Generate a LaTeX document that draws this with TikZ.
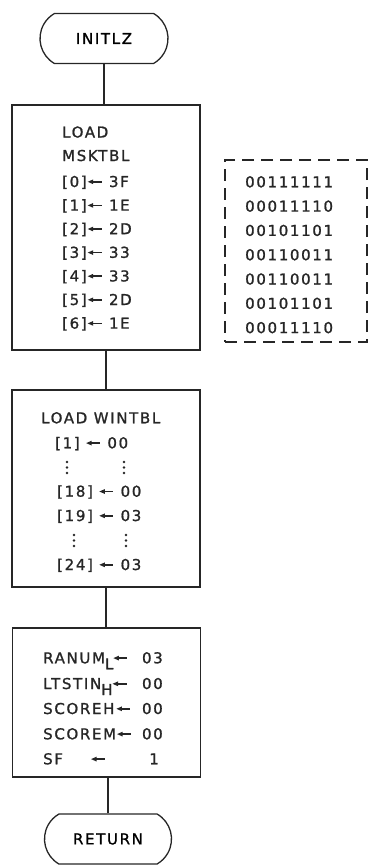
\documentclass[tikz,border=0pt]{standalone}
\usepackage{fontspec}
\setmainfont{DejaVu Sans}[LetterSpace=11, FakeBold=1.2]
\usetikzlibrary{shapes.misc}
\tikzset{
  flowline/.style={draw=black!85, line width=1.3pt},
  termbox/.style={flowline, rounded rectangle, rounded rectangle arc length=120, minimum height=50pt, inner sep=0pt},
  procbox/.style={flowline, rectangle, minimum width=188pt, inner sep=0pt},
  tblbox/.style={flowline, rectangle, dash pattern=on 12pt off 7pt, inner sep=0pt},
  txt/.style={anchor=base west, inner sep=0pt, text=black!85},
  txtr/.style={anchor=base east, inner sep=0pt, text=black!85},
  every node/.style={font=\fontsize{15}{18}\selectfont},
}
\newcommand{\lsub}[1]{\raisebox{-6pt}{#1}}
\newcommand{\getsarrow}{\tikz[x=1pt, y=1pt, baseline=0pt]{\fill[black!85] (0,5.2) -- (5.5,7.6) -- (5.5,2.8) -- cycle; \draw[black!85, line width=1.7pt] (4,5.2) -- (14,5.2);}}
\begin{document}
\begin{tikzpicture}[x=1pt, y=-1pt]
\useasboundingbox (0,0) rectangle (368,865);
% Terminals and process boxes
\node[termbox, minimum width=128pt] (initlz) at (104,38.5) {INITLZ};
\node[procbox, minimum height=245pt] (msk) at (106,227.5) {};
\node[procbox, minimum height=197pt] (win) at (106,488.5) {};
\node[procbox, minimum height=149pt] (ini) at (106.5,702.5) {};
\node[termbox, minimum width=127pt] (ret) at (108,839) {RETURN};
% Bit pattern table
\node[tblbox, minimum width=142pt, minimum height=182pt] (tbl) at (296,251) {};
% Flow lines
\draw[flowline] (initlz.south) -- (initlz.south |- msk.north);
\draw[flowline] (msk) -- (win);
\draw[flowline] (win.south) -- (win.south |- ini.north);
\draw[flowline] (ret.north) -- (ret.north |- ini.south);
% LOAD MSKTBL
\node[txt] (m0) at (62,137.5) {LOAD};
\node[txt] (m1) at (62,161) {MSKTBL};
\node[txt] (m2) at (62,187) {[0]\kern1pt\getsarrow\ 3F};
\node[txt] (m3) at (62,210.6) {[1]\kern1pt\getsarrow\ 1E};
\node[txt] (m4) at (62,234.2) {[2]\kern1pt\getsarrow\ 2D};
\node[txt] (m5) at (62,257.8) {[3]\kern1pt\getsarrow\ 33};
\node[txt] (m6) at (62,281.4) {[4]\kern1pt\getsarrow\ 33};
\node[txt] (m7) at (62,305) {[5]\kern1pt\getsarrow\ 2D};
\node[txt] (m8) at (62,328.6) {[6]\kern1pt\getsarrow\ 1E};
% Bit patterns
\node[txt] (b0) at (245,187.3) {00111111};
\node[txt] (b1) at (245,211.6) {00011110};
\node[txt] (b2) at (245,235.9) {00101101};
\node[txt] (b3) at (245,260.2) {00110011};
\node[txt] (b4) at (245,284.5) {00110011};
\node[txt] (b5) at (245,308.8) {00101101};
\node[txt] (b6) at (245,333.1) {00011110};
% LOAD WINTBL
\node[txt] (w0) at (41,423.3) {LOAD WINTBL};
\node[txt] (w1) at (55,448.3) {[1]\ \getsarrow\ 00};
\node[txt] (w2) at (57,496.7) {[18]\ \getsarrow\ 00};
\node[txt] (w3) at (57,521) {[19]\ \getsarrow\ 03};
\node[txt] (w4) at (57,570) {[24]\ \getsarrow\ 03};
\begin{scope}[fill=black!85]
  \fill (67,462) circle (1.3pt) (67,467.5) circle (1.3pt) (67,473) circle (1.3pt);
  \fill (124,462) circle (1.3pt) (124,467.5) circle (1.3pt) (124,473) circle (1.3pt);
  \fill (74,535) circle (1.3pt) (74,540.5) circle (1.3pt) (74,546) circle (1.3pt);
  \fill (126,535) circle (1.3pt) (126,540.5) circle (1.3pt) (126,546) circle (1.3pt);
\end{scope}
% Variable initialisation
\node[txt] (r0) at (43,663.3) {RANUM\lsub{L}\getsarrow};
\node[txtr] (v0) at (163,663.3) {03};
\node[txt] (r1) at (43,689) {LTSTIN\lsub{H}\getsarrow};
\node[txtr] (v1) at (163,689) {00};
\node[txt] (r2) at (43,714) {SCOREH\kern2pt\getsarrow};
\node[txtr] (v2) at (163,714) {00};
\node[txt] (r3) at (43,739.3) {SCOREM\kern1pt\getsarrow};
\node[txtr] (v3) at (163,739.3) {00};
\node[txt] (r4) at (43,764.3) {SF};
\node[anchor=base, inner sep=0pt, text=black!85] (a4) at (98.5,764.3) {\getsarrow};
\node[txtr] (v4) at (159,764.3) {1};
\end{tikzpicture}
\end{document}
